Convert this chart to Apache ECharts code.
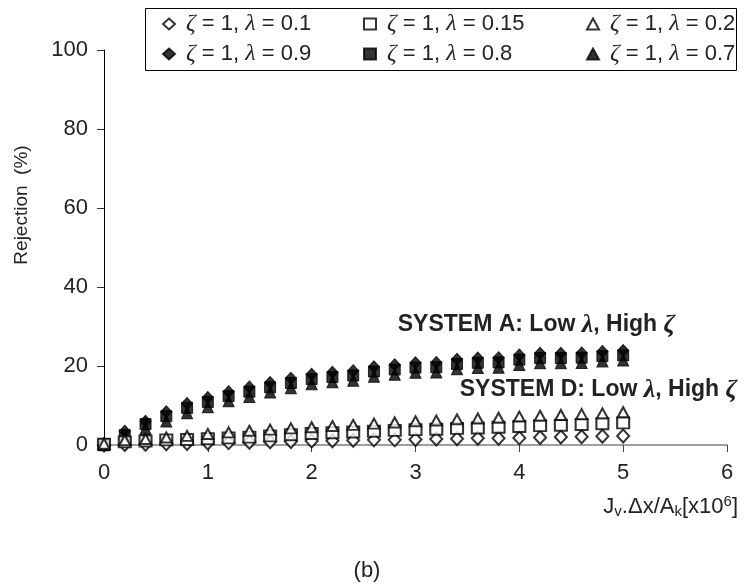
<!DOCTYPE html>
<html>
<head>
<meta charset="utf-8">
<script src="https://cdn.jsdelivr.net/npm/echarts@6/dist/echarts.min.js"></script>
<style>html,body{margin:0;padding:0;background:#fff}#c{width:744px;height:585px}</style>
</head>
<body>
<div id="c"></div>
<script>
var xs = [0,0.2,0.4,0.6,0.8,1.0,1.2,1.4,1.6,1.8,2.0,2.2,2.4,2.6,2.8,3.0,3.2,3.4,3.6,3.8,4.0,4.2,4.4,4.6,4.8,5.0];
var l01  = [0,0.1,0.2,0.3,0.4,0.5,0.6,0.7,0.8,0.9,1.0,1.1,1.2,1.3,1.3,1.4,1.5,1.6,1.7,1.7,1.8,1.9,2.0,2.1,2.2,2.3];
var l015 = [0.2,0.8,1.0,1.3,1.4,1.6,1.8,2.0,2.3,2.6,2.9,3.1,3.3,3.5,3.7,3.9,4.0,4.2,4.3,4.5,4.7,4.9,5.0,5.2,5.4,5.6];
var l02  = [0.3,1.2,1.5,1.9,2.3,2.8,3.2,3.6,3.9,4.2,4.5,4.8,5.1,5.4,5.7,6.0,6.2,6.5,6.7,6.9,7.2,7.4,7.6,7.8,8.0,8.3];
var h09  = [0.3,3.5,6.0,8.4,10.5,12.0,13.5,14.7,15.8,16.9,17.9,18.4,18.8,19.8,20.3,20.8,20.9,21.7,22.0,22.1,22.8,23.2,23.2,23.3,23.7,23.9];
var h08  = [0.2,2.5,5.3,7.3,9.4,10.9,12.4,13.5,14.6,15.7,16.7,17.2,17.6,18.6,19.1,19.6,19.7,20.5,20.8,20.9,21.6,22.0,22.0,22.1,22.5,22.7];
var h07  = [0.1,1.4,4.2,6.1,8.2,9.7,11.2,12.3,13.4,14.5,15.5,16.0,16.4,17.4,17.9,18.4,18.5,19.3,19.6,19.7,20.4,20.8,20.8,20.9,21.3,21.5];
var lambdas = ['0.1','0.15','0.2','0.9','0.8','0.7'];
var yTicks = [0,20,40,60,80,100];
var xTicks = [0,1,2,3,4,5,6];

function pts(v){ return xs.map(function(x,i){ return [x, v[i]]; }); }
var FONT = 'Liberation Sans, Arial, sans-serif';
var GR = {fontFamily:'Liberation Serif, serif', fontStyle:'italic', fontSize:24, color:'#222'};
var GR0 = {fontFamily:'Liberation Serif, serif', fontStyle:'italic', fontSize:24, color:'#222', padding:[0,0,0,6]};

var defs = [
  {name:'l01',  data:l01,  symbol:'diamond',  size:[12,13], hollow:true},
  {name:'l015', data:l015, symbol:'rect',     size:[12,11], hollow:true},
  {name:'l02',  data:l02,  symbol:'triangle', size:[11,10], hollow:true},
  {name:'h09',  data:h09,  symbol:'diamond',  size:[11,12], hollow:false},
  {name:'h08',  data:h08,  symbol:'rect',     size:[11,11], hollow:false},
  {name:'h07',  data:h07,  symbol:'triangle', size:[11,12], hollow:false}
];
var labelMap = {};
defs.forEach(function(d,i){ labelMap[d.name] = '{g0|ζ} = 1, {g|λ} = ' + lambdas[i]; });

var series = defs.map(function(d){
  return {
    name: d.name, type:'scatter', symbol:d.symbol, symbolSize:d.size,
    data: pts(d.data),
    itemStyle: d.hollow ? {color:'#fff', borderColor:'#000', borderWidth:2} : {color:'#000', borderColor:'#000', borderWidth:1},
    z: d.hollow ? 3 : 2
  };
});

var legPos = [[162,12],[363,12],[586,12],[162,42],[363,42],[586,42]];
var legends = defs.map(function(d,i){
  return {
    data:[d.name], left:legPos[i][0], top:legPos[i][1], orient:'horizontal',
    itemWidth:12, itemHeight:11, itemGap:6, selectedMode:false, padding:0,
    formatter:function(n){ return labelMap[n]; },
    textStyle:{fontFamily:FONT, fontSize:22, color:'#222', rich:{g:GR, g0:GR0}}
  };
});

var BG = {fontFamily:'Liberation Serif, serif', fontStyle:'italic', fontWeight:'bold', fontSize:26, fill:'#222'};
var chart = echarts.init(document.getElementById('c'), null, {renderer:'canvas'});
chart.setOption({
  animation:false,
  backgroundColor:'#fff',
  grid:{left:104, right:17, top:50, bottom:140, containLabel:false},
  legend: legends,
  xAxis:{type:'value', min:xTicks[0], max:xTicks[xTicks.length-1], interval:1,
    axisLine:{show:true, onZero:false, lineStyle:{color:'#808080', width:1.5}},
    axisTick:{show:true, inside:false, length:7, lineStyle:{color:'#444', width:1}},
    axisLabel:{fontFamily:FONT, fontSize:22, color:'#222', margin:17},
    splitLine:{show:false}},
  yAxis:{type:'value', min:yTicks[0], max:yTicks[yTicks.length-1], interval:20,
    axisLine:{show:true, lineStyle:{color:'#000', width:1}},
    axisTick:{show:true, length:7, lineStyle:{color:'#333'}},
    axisLabel:{fontFamily:FONT, fontSize:22, color:'#222', margin:16},
    splitLine:{show:false}},
  graphic:[
    {type:'rect', shape:{x:145.5, y:8.5, width:591, height:62}, style:{fill:'none', stroke:'#000', lineWidth:1}, z:10},
    {type:'text', x:22, y:205, rotation:Math.PI/2, style:{text:'Rejection  (%)', font:'19px "Liberation Sans"', fill:'#222', align:'center', verticalAlign:'middle'}},
    {type:'text', x:675, y:325, style:{text:'SYSTEM A: Low {g|λ}, High {g|ζ}', font:'bold 23px "Liberation Sans"', fill:'#222', align:'right', verticalAlign:'middle', rich:{g:BG}}},
    {type:'text', x:737, y:390, style:{text:'SYSTEM D: Low {g|λ}, High {g|ζ}', font:'bold 23px "Liberation Sans"', fill:'#222', align:'right', verticalAlign:'middle', rich:{g:BG}}},
    {type:'text', x:738, y:507, style:{text:'J{sub|v}.Δx/A{sub|k}[x10{sup|6}]', font:'22px "Liberation Sans"', fill:'#222', align:'right', verticalAlign:'middle',
      rich:{sub:{fontSize:15, fontFamily:'Liberation Sans', fill:'#222', verticalAlign:'bottom', padding:[10,0,0,0]}, sup:{fontSize:15, fontFamily:'Liberation Sans', fill:'#222', verticalAlign:'top', padding:[0,0,10,0]}}}},
    {type:'text', x:367, y:571, style:{text:'(b)', font:'22px "Liberation Sans"', fill:'#222', align:'center', verticalAlign:'middle'}}
  ],
  series: series
});
</script>
</body>
</html>
